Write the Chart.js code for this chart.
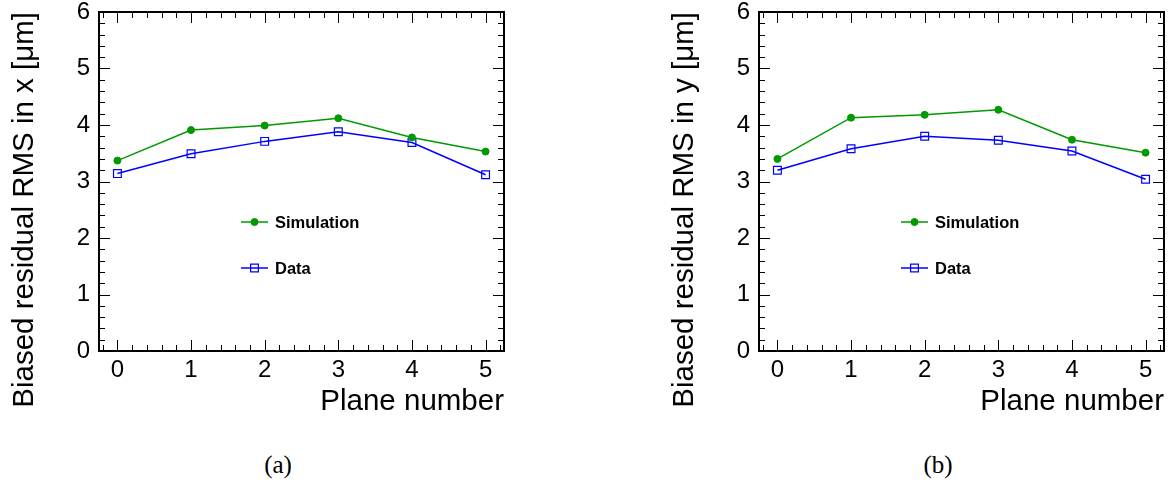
<!DOCTYPE html>
<html>
<head>
<meta charset="utf-8">
<script src="https://cdn.jsdelivr.net/npm/chart.js@4.4.0/dist/chart.umd.min.js"></script>
<style>
  body { margin: 0; background: #fff; width: 1174px; height: 482px; position: relative; overflow: hidden; }
  .panel { position: absolute; top: 0; }
  .cap { position: absolute; top: 450px; width: 100px; text-align: center; line-height: 30px;
         font-family: "Liberation Serif", "Times New Roman", serif; font-size: 25px; color: #000; }
</style>
</head>
<body>
<canvas id="chartA" class="panel" style="left:0" width="514" height="430"></canvas>
<canvas id="chartB" class="panel" style="left:660px" width="514" height="430"></canvas>
<div class="cap" style="left:228px">(a)</div>
<div class="cap" style="left:888px">(b)</div>
<script>
// values
const planes = [0, 1, 2, 3, 4, 5];
const simResX = [3.37, 3.91, 3.99, 4.12, 3.78, 3.53];
const dataResX = [3.14, 3.49, 3.71, 3.88, 3.69, 3.12];
const simResY = [3.40, 4.13, 4.18, 4.27, 3.74, 3.51];
const dataResY = [3.20, 3.58, 3.80, 3.73, 3.54, 3.04];
const xTicks = [0, 1, 2, 3, 4, 5];
const yTicks = [0, 1, 2, 3, 4, 5, 6];
const seriesNames = ['Simulation', 'Data'];

const FONT = "'Liberation Sans', Arial, sans-serif";
const GREEN = 'rgb(0,153,0)';
const BLUE = 'rgb(0,0,255)';

// ROOT style frame with inward ticks on all four sides
const rootFrame = {
  id: 'rootFrame',
  afterDatasetsDraw(chart) {
    const ctx = chart.ctx;
    const a = chart.chartArea;
    const xs = chart.scales.x, ys = chart.scales.y;
    ctx.save();
    ctx.strokeStyle = '#000';
    ctx.lineWidth = 1;
    ctx.beginPath();
    for (let i = -1; i <= 26; i++) {
      const px = Math.round(xs.getPixelForValue(i * 0.2)) + 0.5;
      const len = i % 5 === 0 ? 11 : 6;
      ctx.moveTo(px, a.bottom); ctx.lineTo(px, a.bottom - len);
      ctx.moveTo(px, a.top); ctx.lineTo(px, a.top + len);
    }
    for (let i = 0; i <= 30; i++) {
      const py = Math.round(ys.getPixelForValue(i * 0.2)) + 0.5;
      const len = i % 5 === 0 ? 11 : 6;
      ctx.moveTo(a.left, py); ctx.lineTo(a.left + len, py);
      ctx.moveTo(a.right, py); ctx.lineTo(a.right - len, py);
    }
    ctx.stroke();
    ctx.lineWidth = 2;
    ctx.strokeRect(a.left, a.top, a.right - a.left, a.bottom - a.top);
    ctx.restore();
  }
};

// legend placed inside the frame like the original
const insideLegend = {
  id: 'insideLegend',
  afterDraw(chart) {
    const ctx = chart.ctx;
    const a = chart.chartArea;
    const rows = [a.top + 210, a.top + 256];
    ctx.save();
    chart.data.datasets.forEach((ds, i) => {
      const y = rows[i];
      const x0 = a.left + 142, x1 = a.left + 169;
      ctx.strokeStyle = ds.borderColor;
      ctx.lineWidth = ds.borderWidth;
      ctx.beginPath(); ctx.moveTo(x0, y); ctx.lineTo(x1, y); ctx.stroke();
      ctx.fillStyle = ds.pointBackgroundColor;
      ctx.strokeStyle = ds.pointBorderColor;
      ctx.lineWidth = ds.pointBorderWidth;
      Chart.helpers.drawPoint(ctx, {pointStyle: ds.pointStyle, radius: ds.pointRadius, rotation: 0, borderWidth: ds.pointBorderWidth}, (x0 + x1) / 2, y);
      ctx.fillStyle = '#000';
      ctx.font = 'bold 16.5px ' + FONT;
      ctx.textBaseline = 'middle';
      ctx.textAlign = 'left';
      ctx.fillText(ds.label, a.left + 176, y + 1);
    });
    ctx.restore();
  }
};

function makeChart(id, sim, dat, axisTitle) {
  const simPts = planes.map((p, i) => ({x: p, y: sim[i]}));
  const datPts = planes.map((p, i) => ({x: p, y: dat[i]}));
  return new Chart(document.getElementById(id), {
    type: 'line',
    data: {
      datasets: [{
        label: seriesNames[0],
        data: simPts,
        borderColor: GREEN,
        borderWidth: 1.5,
        pointStyle: 'circle',
        pointRadius: 3.5,
        pointBackgroundColor: GREEN,
        pointBorderColor: GREEN,
        pointBorderWidth: 1,
        tension: 0
      }, {
        label: seriesNames[1],
        data: datPts,
        borderColor: BLUE,
        borderWidth: 1.5,
        pointStyle: 'rect',
        pointRadius: 5.5,
        pointBackgroundColor: 'rgba(0,0,0,0)',
        pointBorderColor: BLUE,
        pointBorderWidth: 1.2,
        tension: 0
      }]
    },
    options: {
      responsive: false,
      animation: false,
      events: [],
      layout: {padding: {top: 12, right: 10, left: 0, bottom: 0}},
      plugins: {legend: {display: false}, tooltip: {enabled: false}},
      scales: {
        x: {
          type: 'linear',
          min: -0.25,
          max: 5.25,
          afterBuildTicks: s => { s.ticks = xTicks.map(v => ({value: v})); },
          afterFit: s => { s.height = 79; s.paddingLeft = 0; s.paddingRight = 0; },
          grid: {display: false, drawTicks: false},
          border: {display: false},
          ticks: {color: '#000', font: {family: FONT, size: 24}, padding: 5, maxRotation: 0, autoSkip: false},
          title: {display: true, text: 'Plane number', align: 'end', color: '#000',
                  font: {family: FONT, size: 29.5}, padding: {top: 0, bottom: 10}}
        },
        y: {
          min: 0,
          max: 6,
          afterBuildTicks: s => { s.ticks = yTicks.map(v => ({value: v})); },
          afterFit: s => { s.width = 99; s.paddingTop = 0; s.paddingBottom = 0; },
          grid: {display: false, drawTicks: false},
          border: {display: false},
          ticks: {color: '#000', font: {family: FONT, size: 24}, padding: 9},
          title: {display: true, text: axisTitle, align: 'end', color: '#000',
                  font: {family: FONT, size: 29.5}, padding: {top: 7, bottom: 0}}
        }
      }
    },
    plugins: [rootFrame, insideLegend]
  });
}

makeChart('chartA', simResX, dataResX, 'Biased residual RMS in x [μm]');
makeChart('chartB', simResY, dataResY, 'Biased residual RMS in y [μm]');
</script>
</body>
</html>
